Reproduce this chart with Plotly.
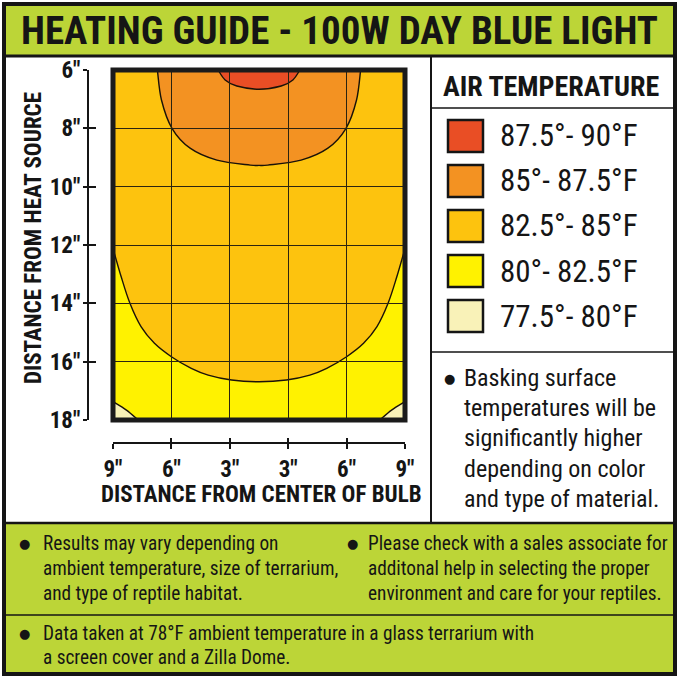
import plotly.graph_objects as go

W = H = 679

# ---------------- data ----------------
band_labels = ["87.5°- 90°F", "85°- 87.5°F", "82.5°- 85°F", "80°- 82.5°F", "77.5°- 80°F"]
band_colors = ["#E94E25", "#F39222", "#FDC30E", "#FFF200", "#F9F2B8"]

x_tick_pos = [-2.5, -1.5, -0.5, 0.5, 1.5, 2.5]
x_tick_labels = ['9"', '6"', '3"', '3"', '6"', '9"']
y_tick_vals = [6, 8, 10, 12, 14, 16, 18]
y_tick_labels = ['6"', '8"', '10"', '12"', '14"', '16"', '18"']
x_grid = [-1.5, -0.5, 0.5, 1.5]
y_grid = [8, 10, 12, 14, 16]

# contour boundaries
# x: grid units from the bulb centre, y: inches from heat source
red_x = [-0.70, -0.58, -0.38, 0.0, 0.38, 0.58, 0.70]
red_y = [6.0, 6.34, 6.55, 6.66, 6.55, 6.34, 6.0]

orange_x = [-1.74, -1.67, -1.49, -1.18, -0.72, -0.15, 0.0, 0.15, 0.72, 1.18, 1.49, 1.67, 1.74]
orange_y = [6.0, 7.03, 8.0, 8.68, 9.09, 9.26, 9.27, 9.26, 9.09, 8.68, 8.0, 7.03, 6.0]

amber_x = [-2.5, -2.36, -2.21, -2.02, -1.79, -1.50, -1.16, -0.87, -0.47, 0.0,
           0.47, 0.87, 1.16, 1.50, 1.79, 2.02, 2.21, 2.36, 2.5]
amber_y = [12.12, 13.09, 14.0, 14.80, 15.37, 15.83, 16.23, 16.46, 16.63, 16.69,
           16.63, 16.46, 16.23, 15.83, 15.37, 14.80, 14.0, 13.09, 12.12]

pale_left_x = [-2.5, -2.27, -2.07]
pale_left_y = [17.37, 17.66, 18.0]
pale_right_x = [2.07, 2.27, 2.5]
pale_right_y = [18.0, 17.66, 17.37]

notes_right = ["Basking surface", "temperatures will be", "significantly higher",
               "depending on color", "and type of material."]
notes_bl = ["Results may vary depending on", "ambient temperature, size of terrarium,",
            "and type of reptile habitat."]
notes_br = ["Please check with a sales associate for", "additonal help in selecting the proper",
            "environment and care for your reptiles."]
notes_bottom = ["Data taken at 78°F ambient temperature in a glass terrarium with",
                "a screen cover and a Zilla Dome."]

# ---------------- helpers ----------------
NARROW = "Liberation Sans Narrow, Arial Narrow, Roboto Condensed, DejaVu Sans Condensed, sans-serif"
LIME = "#BCD537"
INK = "#151515"


def px(x):
    return x / W


def py(y):
    return 1 - y / H


def smooth(xs, ys):
    """Catmull-Rom curve through the given points as SVG cubic segments."""
    pts = list(zip(xs, ys))
    s = ""
    for i in range(len(pts) - 1):
        p0 = pts[i - 1] if i > 0 else pts[i]
        p1 = pts[i]
        p2 = pts[i + 1]
        p3 = pts[i + 2] if i + 2 < len(pts) else pts[i + 1]
        c1 = (p1[0] + (p2[0] - p0[0]) / 6, p1[1] + (p2[1] - p0[1]) / 6)
        c2 = (p2[0] - (p3[0] - p1[0]) / 6, p2[1] - (p3[1] - p1[1]) / 6)
        s += f" C {c1[0]},{c1[1]} {c2[0]},{c2[1]} {p2[0]},{p2[1]}"
    return s


xmin, xmax = x_tick_pos[0], x_tick_pos[-1]
ymin, ymax = y_tick_vals[0], y_tick_vals[-1]

paths = []
paths.append((f"M {xmin},{ymin} L {amber_x[0]},{amber_y[0]}" + smooth(amber_x, amber_y)
              + f" L {xmax},{ymin} Z", band_colors[2]))
paths.append((f"M {orange_x[0]},{orange_y[0]}" + smooth(orange_x, orange_y) + " Z", band_colors[1]))
paths.append((f"M {red_x[0]},{red_y[0]}" + smooth(red_x, red_y) + " Z", band_colors[0]))
paths.append((f"M {pale_left_x[0]},{pale_left_y[0]}" + smooth(pale_left_x, pale_left_y)
              + f" L {xmin},{ymax} Z", band_colors[4]))
paths.append((f"M {pale_right_x[0]},{pale_right_y[0]}" + smooth(pale_right_x, pale_right_y)
              + f" L {xmax},{ymax} Z", band_colors[4]))

fig = go.Figure()
for xa, ya in [("x", "y"), ("x2", "y2"), ("x3", "y3")]:
    fig.add_trace(go.Scatter(x=[xmin, xmax], y=[ymin, ymax], mode="markers", xaxis=xa, yaxis=ya,
                             marker=dict(opacity=0), hoverinfo="skip", showlegend=False))

shapes = []
for d, col in paths:
    shapes.append(dict(type="path", path=d, xref="x", yref="y", layer="below",
                       fillcolor=col, line=dict(color="#1a1208", width=1.4)))
shapes.append(dict(type="rect", xref="x domain", yref="y domain", x0=0, x1=1, y0=0, y1=1,
                   line=dict(color="#1b1b1b", width=5), layer="above"))

shapes += [
    dict(type="rect", xref="paper", yref="paper", x0=px(3), x1=px(676), y0=py(4), y1=py(56),
         fillcolor=LIME, line=dict(width=0), layer="below"),
    dict(type="rect", xref="paper", yref="paper", x0=px(3), x1=px(676), y0=py(523), y1=py(673),
         fillcolor=LIME, line=dict(width=0), layer="below"),
    dict(type="rect", xref="paper", yref="paper", x0=px(4), x1=px(675), y0=py(4), y1=py(674),
         line=dict(color=INK, width=4)),
    dict(type="line", xref="paper", yref="paper", x0=px(4), x1=px(675), y0=py(56), y1=py(56),
         line=dict(color=INK, width=3)),
    dict(type="line", xref="paper", yref="paper", x0=px(4), x1=px(675), y0=py(523), y1=py(523),
         line=dict(color=INK, width=2.5)),
    dict(type="line", xref="paper", yref="paper", x0=px(431), x1=px(431), y0=py(56), y1=py(523),
         line=dict(color=INK, width=2)),
    dict(type="line", xref="paper", yref="paper", x0=px(431), x1=px(675), y0=py(108), y1=py(108),
         line=dict(color=INK, width=1.5)),
    dict(type="line", xref="paper", yref="paper", x0=px(431), x1=px(675), y0=py(352), y1=py(352),
         line=dict(color=INK, width=1.5)),
    dict(type="line", xref="paper", yref="paper", x0=px(4), x1=px(675), y0=py(615), y1=py(615),
         line=dict(color=INK, width=1.5)),
]

legend_centres = [136, 181, 226, 271, 316]
annotations = []
for lab, col, cy in zip(band_labels, band_colors, legend_centres):
    shapes.append(dict(type="rect", xref="paper", yref="paper", x0=px(448), x1=px(483),
                       y0=py(cy + 16), y1=py(cy - 16), fillcolor=col,
                       line=dict(color=INK, width=2.5)))
    annotations.append(dict(text=lab, x=px(498), y=py(cy), xref="paper", yref="paper",
                            xanchor="left", yanchor="middle", showarrow=False,
                            font=dict(family=NARROW, size=31, color=INK)))

annotations.append(dict(text="<b>HEATING GUIDE - 100W DAY BLUE LIGHT</b>", x=px(339), y=py(31),
                        xref="paper", yref="paper", xanchor="center", yanchor="middle",
                        showarrow=False, font=dict(family=NARROW, size=39, color=INK)))
annotations.append(dict(text="<b>AIR TEMPERATURE</b>", x=px(551), y=py(87), xref="paper", yref="paper",
                        xanchor="center", yanchor="middle", showarrow=False,
                        font=dict(family=NARROW, size=28, color=INK)))
annotations.append(dict(text="<b>DISTANCE FROM CENTER OF BULB</b>", x=px(261), y=py(494),
                        xref="paper", yref="paper", xanchor="center", yanchor="middle",
                        showarrow=False, font=dict(family=NARROW, size=23, color=INK)))
annotations.append(dict(text="<b>DISTANCE FROM HEAT SOURCE</b>", x=px(34), y=py(238),
                        xref="paper", yref="paper", xanchor="center", yanchor="middle",
                        textangle=-90, showarrow=False,
                        font=dict(family=NARROW, size=23, color=INK)))


def add_lines(lines, x, y0, dy, size, bullet_x):
    annotations.append(dict(text="●", x=px(bullet_x), y=py(y0), xref="paper", yref="paper",
                            xanchor="center", yanchor="middle", showarrow=False,
                            font=dict(family="DejaVu Sans", size=13, color=INK)))
    for i, t in enumerate(lines):
        annotations.append(dict(text=t, x=px(x), y=py(y0 + i * dy), xref="paper", yref="paper",
                                xanchor="left", yanchor="middle", showarrow=False,
                                font=dict(family=NARROW, size=size, color=INK)))


add_lines(notes_right, 462, 378, 30.2, 24, 449)
add_lines(notes_bl, 41, 543, 25, 19.3, 24)
add_lines(notes_br, 366, 543, 25, 19.3, 352)
add_lines(notes_bottom, 41, 633, 24, 19.3, 24)

tickfont = dict(family=NARROW, size=23, color=INK, weight="bold")
dom_x = [px(113), px(405)]
dom_y = [py(420), py(70)]

common = dict(automargin=False, zeroline=False, fixedrange=True)
fig.update_layout(
    width=W, height=H, margin=dict(l=0, r=0, t=0, b=0, pad=0, autoexpand=False),
    paper_bgcolor="white", plot_bgcolor=band_colors[3],
    showlegend=False, shapes=shapes, annotations=annotations,
    xaxis=dict(domain=dom_x, range=[xmin, xmax], tickvals=x_grid, showticklabels=False,
               ticks="", showgrid=True, gridcolor="#2b2410", gridwidth=1, showline=False, **common),
    yaxis=dict(domain=dom_y, range=[ymax, ymin], tickvals=y_grid, showticklabels=False,
               ticks="", showgrid=True, gridcolor="#2b2410", gridwidth=1, showline=False, **common),
    xaxis2=dict(overlaying="x", anchor="free", position=py(443), range=[xmin, xmax],
                tickvals=x_tick_pos, ticktext=x_tick_labels, ticks="outside", ticklen=5,
                tickwidth=2, tickcolor=INK, showline=True, linewidth=2, linecolor=INK,
                showgrid=False, tickfont=tickfont, ticklabelstandoff=0, **common),
    xaxis3=dict(overlaying="x", anchor="free", position=py(443), range=[xmin, xmax],
                tickvals=x_tick_pos, ticks="inside", ticklen=5, tickwidth=2, tickcolor=INK,
                showticklabels=False, showgrid=False, showline=False, **common),
    yaxis2=dict(overlaying="y", anchor="free", position=px(88), range=[ymax, ymin],
                tickvals=y_tick_vals, ticktext=y_tick_labels, ticks="outside", ticklen=4,
                tickwidth=2, tickcolor=INK, showline=True, linewidth=2, linecolor=INK,
                showgrid=False, tickfont=tickfont, ticklabelstandoff=-2, **common),
    yaxis3=dict(overlaying="y", anchor="free", position=px(88), range=[ymax, ymin],
                tickvals=y_tick_vals, ticks="inside", ticklen=7, tickwidth=2, tickcolor=INK,
                showticklabels=False, showgrid=False, showline=False, **common),
)

fig.write_html("out.html")
